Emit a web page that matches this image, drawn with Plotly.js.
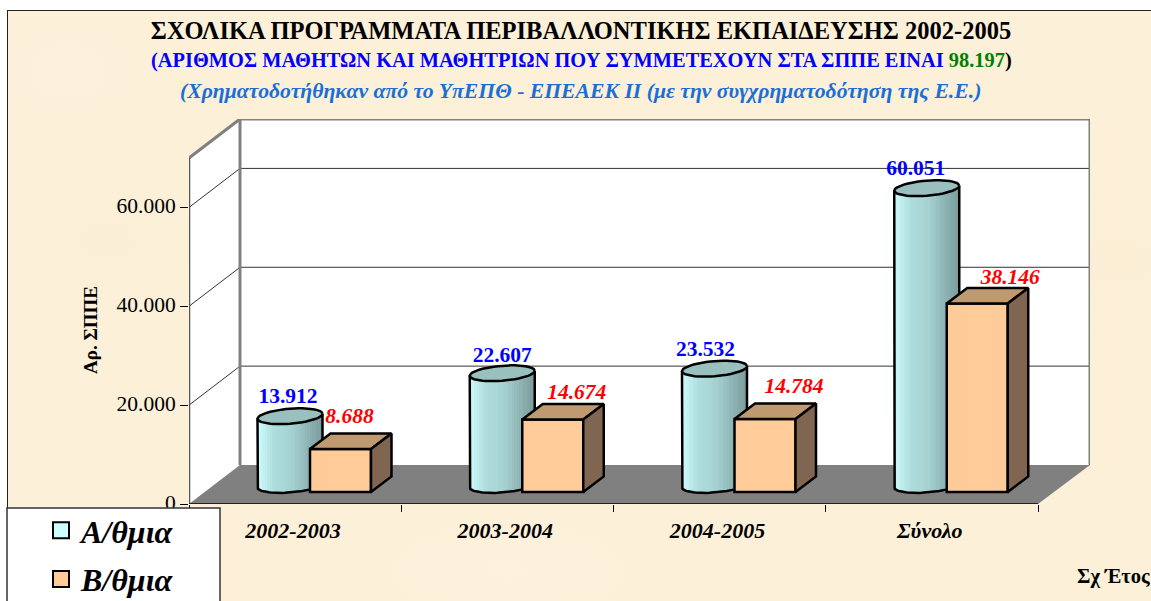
<!DOCTYPE html>
<html><head><meta charset="utf-8">
<script src="https://cdn.plot.ly/plotly-3.0.1.min.js"></script>
<style>
html,body{margin:0;padding:0;background:#fff;overflow:hidden;width:1151px;height:601px}
#bg{position:absolute;left:7px;top:10px;width:1150px;height:600px;border:1.5px solid #222;box-sizing:border-box;
background:
 radial-gradient(ellipse 70px 50px at 60px 60px,#fdf1de,transparent),
 radial-gradient(ellipse 90px 60px at 100px 230px,#faeed6,transparent),
 radial-gradient(ellipse 120px 80px at 1110px 250px,#fbeed5,transparent),
 radial-gradient(ellipse 150px 60px at 500px 560px,#fdf2dc,transparent),
 #fcf0d9}
#chart{position:absolute;left:0;top:0;width:1151px;height:601px}
</style></head><body>
<div id="bg"></div><div id="chart"></div>
<script>
const categories = ["2002-2003","2003-2004","2004-2005","Σύνολο"];
const seriesA = [13912,22607,23532,60051];
const seriesB = [8688,14674,14784,38146];
const labelsA = ["13.912","22.607","23.532","60.051"];
const labelsB = ["8.688","14.674","14.784","38.146"];
const yTickVals = [0,20000,40000,60000];
const yTickText = ["0","20.000","40.000","60.000"];
const nameA = "Α/θμια", nameB = "Β/θμια";

// Pixel scales of the pseudo-3D frame
const PX = 212.25, PY = 4.943/1000;      // px per x unit, px per y unit
const L=189,R=1090,T=119,B=504,W=1151,H=601;
const ux = v=>v/PX, uy = v=>v/PY;
const yMax=(B-T)/PY, xMax=(R-L)/PX, yTop=70000;
const dX=ux(51), dY=uy(39);               // wall depth
const serif="Liberation Serif";
const px2x=p=>(p-L)/(R-L), px2y=p=>(B-p)/(B-T);

// Cylinder / box geometry in data units
const cylC=ux(101), cylR=ux(32.5), cylBase=uy(19), ry=uy(7.5), tilt=uy(2.5);
const boxL=ux(121), boxW=ux(61), boxBase=uy(12), boxDX=ux(20.5), boxDY=uy(15.5);
const nStrip=26, stripW=2*cylR/nStrip;
function stripColor(u){ // u in 0..1, light left to dark right
  const s=[[0,[204,255,255]],[.1,[195,240,240]],[.25,[175,222,222]],[.55,[165,208,208]],[.8,[140,178,178]],[1,[125,155,155]]];
  for(let i=1;i<s.length;i++) if(u<=s[i][0]){const t=(u-s[i-1][0])/(s[i][0]-s[i-1][0]);
    return 'rgb('+s[i][1].map((c,k)=>Math.round(s[i-1][1][k]+(c-s[i-1][1][k])*t)).join(',')+')';}
  return 'rgb(125,155,155)';
}
const botOff=u=>-ry*Math.sqrt(Math.max(0,1-u*u))+tilt*u;

// Bar traces
const sx=[],sy=[],sb=[],sc=[],sw=[];
categories.forEach((c,i)=>{
  for(let k=0;k<nStrip;k++){
    const u=-1+(k+.5)*2/nStrip;
    sx.push(i+cylC+u*cylR); sy.push(seriesA[i]); sb.push(cylBase+botOff(u));
    sc.push(stripColor((k+.5)/nStrip)); sw.push(stripW*1.25);
  }
});
const traces=[];
traces.push({type:'bar',x:sx,y:sy,base:sb,width:sw,marker:{color:sc,line:{width:0}},showlegend:false,hoverinfo:'skip',name:nameA});
traces.push({type:'bar',x:categories.map((c,i)=>i+boxL+boxW/2),y:seriesB,base:boxBase,width:boxW,
  marker:{color:'#ffcc99',line:{color:'#000',width:2.5}},showlegend:false,hoverinfo:'skip',name:nameB});

const blk={color:'#000',width:2.5};
function poly(xs,ys,fill){traces.push({type:'scatter',mode:'lines',x:xs,y:ys,fill:'toself',fillcolor:fill,line:blk,showlegend:false,hoverinfo:'skip',cliponaxis:false});}
function path(xs,ys){traces.push({type:'scatter',mode:'lines',x:xs,y:ys,line:blk,showlegend:false,hoverinfo:'skip',cliponaxis:false});}

// Cylinder outlines + top
categories.forEach((c,i)=>{
  const cx=i+cylC, top=cylBase+seriesA[i];
  path([cx+cylR,cx+cylR],[seriesB[i]+boxBase,top+tilt]); // right edge from box top
  const bx=[cx-cylR],by=[top-tilt];
  for(let a=0;a<=40;a++){
    const u=-Math.cos(a/40*Math.PI), xx=cx+u*cylR;
    if(xx>i+boxL) break;
    bx.push(xx); by.push(cylBase+botOff(u));
  }
  path(bx,by);
  const ex=[],ey=[];
  for(let a=0;a<=48;a++){
    const t=a/48*2*Math.PI,u=Math.cos(t);
    ex.push(cx+cylR*u); ey.push(top+ry*Math.sin(t)+tilt*u);
  }
  poly(ex,ey,'#99bfbf');
});
// Box top and side
categories.forEach((c,i)=>{
  const x0=i+boxL,x1=x0+boxW,y0=boxBase,y1=boxBase+seriesB[i];
  poly([x0,x0+boxDX,x1+boxDX,x1,x0],[y1,y1+boxDY,y1+boxDY,y1,y1],'#bf9970');
  poly([x1,x1+boxDX,x1+boxDX,x1,x1],[y1,y1+boxDY,y0+boxDY,y0,y1],'#806650');
});
// Data labels (offsets in px from the top of each mark)
const shiftA=[[-2,19],[0,17],[-9,18],[-11,19]], shiftB=[[9,31],[24,26],[29,31],[33,25]];
traces.push({type:'scatter',mode:'text',
  x:categories.map((c,i)=>i+cylC+ux(shiftA[i][0])),y:seriesA.map((v,i)=>v+cylBase+uy(shiftA[i][1])),
  text:labelsA,textposition:'middle center',cliponaxis:false,showlegend:false,hoverinfo:'skip',
  textfont:{family:serif,size:21.5,color:'#0000ff',weight:'bold'}});
traces.push({type:'scatter',mode:'text',
  x:categories.map((c,i)=>i+boxL+boxW/2+ux(shiftB[i][0])),y:seriesB.map((v,i)=>v+boxBase+uy(shiftB[i][1])),
  text:labelsB,textposition:'middle center',cliponaxis:false,showlegend:false,hoverinfo:'skip',
  textfont:{family:serif,size:21.5,color:'#ff0000',weight:'bold',style:'italic'}});
// Legend entries
[[nameA,'#ccffff','a'],[nameB,'#ffcc99','b']].forEach(e=>traces.push({type:'scatter',mode:'markers',x:[null],y:[null],name:e[0],legendgroup:e[2],
  marker:{symbol:'square',size:17,color:e[1],line:{color:'#000',width:2}},hoverinfo:'skip'}));
// Carrier for the label axis
traces.push({type:'scatter',mode:'markers',x:[null],y:[null],yaxis:'y2',showlegend:false,hoverinfo:'skip'});

// Frame shapes
const shapes=[];
const X4=categories.length;
shapes.push({type:'path',layer:'below',xref:'x',yref:'y',line:{width:0},fillcolor:'#fff',
  path:`M0,0 L${dX},${dY} L${xMax},${dY} L${xMax},${yTop+dY} L${dX},${yTop+dY} L0,${yTop} Z`});
shapes.push({type:'path',layer:'below',xref:'x',yref:'y',line:{width:0},fillcolor:'#808080',
  path:`M0,0 L${dX},${dY} L${xMax},${dY} L${X4},0 Z`});
yTickVals.slice(1).forEach(v=>{
  shapes.push({type:'path',layer:'below',xref:'x',yref:'y',line:{color:'#333',width:1},
    path:`M0,${v} L${dX},${v+dY} L${xMax},${v+dY}`});
});
const frame={color:'#808080',width:3};
shapes.push({type:'path',layer:'below',xref:'x',yref:'y',line:frame,
  path:`M0,${yTop} L${dX},${yTop+dY} L${xMax},${yTop+dY} L${xMax},${dY}`});
shapes.push({type:'line',layer:'below',xref:'x',yref:'y',line:frame,x0:dX,x1:dX,y0:dY,y1:yTop+dY});
shapes.push({type:'line',layer:'below',xref:'x',yref:'y',line:{color:'#555',width:2.5},x0:0,x1:0,y0:0,y1:yTop});
shapes.push({type:'line',layer:'below',xref:'x',yref:'y',line:{color:'#222',width:2},x0:0,x1:X4,y0:0,y1:0});
// Legend box
shapes.push({type:'rect',layer:'above',xref:'paper',yref:'paper',x0:px2x(7),x1:px2x(220),y0:px2y(508),y1:px2y(640),
  fillcolor:'#fff',line:{color:'#333',width:1.5}});

const annotations=[
 {xref:'paper',yref:'paper',x:px2x(581.5),y:px2y(60),xanchor:'center',yanchor:'middle',showarrow:false,
  text:'<span style="color:#0000ff">(ΑΡΙΘΜΟΣ ΜΑΘΗΤΩΝ ΚΑΙ ΜΑΘΗΤΡΙΩΝ ΠΟΥ ΣΥΜΜΕΤΕΧΟΥΝ ΣΤΑ ΣΠΠΕ ΕΙΝΑΙ </span><span style="color:#008000">98.197</span><span style="color:#000">)</span>',
  font:{family:serif,size:20.4,weight:'bold',color:'#0000ff'}},
 {xref:'paper',yref:'paper',x:px2x(580),y:px2y(91),xanchor:'center',yanchor:'middle',showarrow:false,
  text:'(Χρηματοδοτήθηκαν από το ΥπΕΠΘ - ΕΠΕΑΕΚ ΙΙ (με την συγχρηματοδότηση της Ε.Ε.)',
  font:{family:serif,size:21.7,weight:'bold',style:'italic',color:'#1a6fd6'}},
 {xref:'paper',yref:'paper',x:px2x(90),y:px2y(330),xanchor:'center',yanchor:'middle',showarrow:false,textangle:-90,
  text:'Αρ. ΣΠΠΕ',font:{family:serif,size:19,weight:'bold',color:'#000'}},
 {xref:'paper',yref:'paper',x:px2x(1075),y:px2y(576),xanchor:'left',yanchor:'middle',showarrow:false,
  text:'Σχ Έτος',font:{family:serif,size:20.5,weight:'bold',color:'#000'}}
];

const layout={
  width:W,height:H,paper_bgcolor:'rgba(0,0,0,0)',plot_bgcolor:'rgba(0,0,0,0)',
  margin:{l:L,r:W-R,t:T,b:H-B,pad:0,autoexpand:false},
  barmode:'overlay',bargap:0,
  title:{text:'ΣΧΟΛΙΚΑ ΠΡΟΓΡΑΜΜΑΤΑ ΠΕΡΙΒΑΛΛΟΝΤΙΚΗΣ ΕΚΠΑΙΔΕΥΣΗΣ 2002-2005',
    font:{family:serif,size:24.5,weight:'bold',color:'#000'},
    x:581/W,xanchor:'center',xref:'container',y:1-30/H,yanchor:'middle',yref:'container'},
  xaxis:{range:[0,xMax],showgrid:false,zeroline:false,showline:false,fixedrange:true,
    tickmode:'array',tickvals:categories.map((c,i)=>i+.49),ticktext:categories,
    ticks:'outside',ticklen:7,tickcolor:'rgba(0,0,0,0)',
    tickfont:{family:serif,size:22,weight:'bold',style:'italic',color:'#000'},
    minor:{tickmode:'array',tickvals:[0,1,2,3,4],ticks:'outside',ticklen:7,tickwidth:1,tickcolor:'#000',showgrid:false}},
  yaxis:{range:[0,yMax],showgrid:false,zeroline:false,showline:false,fixedrange:true,
    tickmode:'array',tickvals:yTickVals,showticklabels:false,ticks:'outside',ticklen:8,tickwidth:1,tickcolor:'#000'},
  yaxis2:{overlaying:'y',side:'left',anchor:'x',range:[-uy(2),yMax-uy(2)],showgrid:false,zeroline:false,showline:false,fixedrange:true,
    tickmode:'array',tickvals:yTickVals,ticktext:yTickText,ticks:'outside',ticklen:8,tickcolor:'rgba(0,0,0,0)',
    tickfont:{family:serif,size:21.5,color:'#000'}},
  showlegend:true,
  legend:{x:px2x(41),xanchor:'left',y:px2y(503),yanchor:'top',bgcolor:'rgba(0,0,0,0)',borderwidth:0,
    traceorder:'grouped',tracegroupgap:4,font:{family:serif,size:32,weight:'bold',style:'italic',color:'#000'},
    itemclick:false,itemdoubleclick:false},
  shapes:shapes,annotations:annotations
};
Plotly.newPlot('chart',traces,layout,{displayModeBar:false,staticPlot:true});
</script>
</body></html>
